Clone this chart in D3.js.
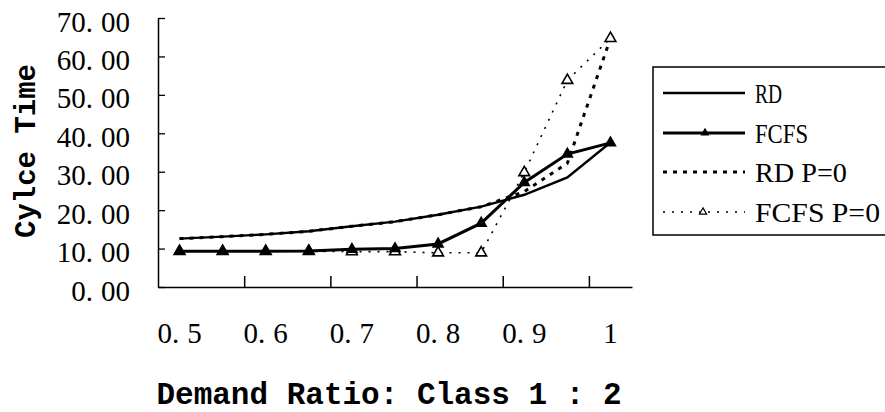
<!DOCTYPE html>
<html>
<head>
<meta charset="utf-8">
<script src="https://cdn.jsdelivr.net/npm/d3@7/dist/d3.min.js"></script>
<style>
  html, body { margin: 0; padding: 0; background: #fff; }
  svg { display: block; }
</style>
</head>
<body>
<svg id="chart" width="885" height="412"></svg>
<script>
// Demand ratio (class 1 : class 2) categories along the x axis
const categories = ["0.5", "0.55", "0.6", "0.65", "0.7", "0.75", "0.8", "0.85", "0.9", "0.95", "1"];
const xTickLabels = ["0.5", "0.6", "0.7", "0.8", "0.9", "1"];
const yTicks = [0, 10, 20, 30, 40, 50, 60, 70];

// Cycle time for each policy
const rd        = [12.6, 13.1, 13.7, 14.5, 15.8, 17.0, 18.8, 20.9, 24.0, 28.5, 37.6];
const fcfs      = [9.3, 9.3, 9.3, 9.4, 9.8, 10.0, 11.2, 16.6, 27.2, 34.6, 37.5];
const rdP0      = [12.6, 13.1, 13.7, 14.5, 15.8, 17.0, 18.8, 20.9, 24.8, 32.2, 64.7];
const fcfsP0    = [9.3, 9.3, 9.3, 9.3, 9.2, 9.2, 8.9, 8.9, 29.8, 53.8, 64.7];

const seriesNames = ["RD", "FCFS", "RD  P=0", "FCFS  P=0"];

const svg = d3.select("#chart");
const plotLeft = 158, plotRight = 632, plotTop = 18, plotBottom = 287;

const x = d3.scaleBand().domain(categories).range([plotLeft, plotRight]).padding(0);
const xEdge = d3.scaleLinear().domain([0, categories.length]).range([plotLeft, plotRight]);
const y = d3.scaleLinear().domain([0, 70]).range([plotBottom, plotTop]);
const cx = c => x(c) + x.bandwidth() / 2;

const serif = "'Liberation Serif', 'Times New Roman', serif";
const mono = "'Liberation Mono', 'Courier New', monospace";

// Labels in the "70. 00" style: the decimal point keeps a wide cell
function splitDecimal(sel, fmt) {
  sel.each(function(d) {
    const s = fmt(d);
    const t = d3.select(this).text(null);
    const i = s.indexOf(".");
    if (i < 0) { t.text(s); return; }
    t.append("tspan").text(s.slice(0, i + 1));
    t.append("tspan").attr("dx", 8).text(s.slice(i + 1));
  });
}

// Y axis: ticks point inward, labels on the left
const yAxis = svg.append("g")
  .attr("transform", `translate(${plotLeft},0)`)
  .call(d3.axisLeft(y).tickValues(yTicks).tickSizeInner(-7).tickSizeOuter(0).tickPadding(28));
yAxis.select(".domain").attr("stroke", "#000").attr("stroke-width", 1.5);
yAxis.selectAll(".tick line").attr("stroke", "#000").attr("stroke-width", 1.3);
yAxis.selectAll(".tick text")
  .attr("font-family", serif).attr("font-size", 29).attr("fill", "#000").attr("dy", "0.45em")
  .call(splitDecimal, d3.format(".2f"));

// X axis line with inward ticks every two categories
const xTickAxis = svg.append("g")
  .attr("transform", `translate(0,${plotBottom})`)
  .call(d3.axisBottom(xEdge).tickValues([2, 4, 6, 8, 10]).tickSizeInner(-11).tickSizeOuter(0).tickFormat(""));
xTickAxis.select(".domain").attr("stroke", "#000").attr("stroke-width", 1.5);
xTickAxis.selectAll(".tick line").attr("stroke", "#000").attr("stroke-width", 1.5);

// X labels centred on their categories
const xLabelAxis = svg.append("g")
  .attr("transform", `translate(0,${plotBottom})`)
  .call(d3.axisBottom(x).tickValues(xTickLabels).tickSize(0).tickPadding(35));
xLabelAxis.select(".domain").remove();
xLabelAxis.selectAll(".tick text")
  .attr("font-family", serif).attr("font-size", 29).attr("fill", "#000")
  .call(splitDecimal, d => d);

// Axis titles
svg.append("text")
  .attr("transform", "translate(35,151) rotate(-90)")
  .attr("text-anchor", "middle")
  .attr("font-family", mono).attr("font-weight", "bold").attr("font-size", 29)
  .text("Cylce Time");
svg.append("text")
  .attr("x", 389).attr("y", 404)
  .attr("text-anchor", "middle")
  .attr("font-family", mono).attr("font-weight", "bold").attr("font-size", 31)
  .text("Demand Ratio: Class 1 : 2");

const line = d3.line().x((d, i) => cx(categories[i])).y(d => y(d));
const tri = d3.symbol().type(d3.symbolTriangle);

// FCFS P=0: dotted line, hollow triangles
svg.append("path").datum(fcfsP0).attr("d", line)
  .attr("fill", "none").attr("stroke", "#000").attr("stroke-width", 1.6).attr("stroke-dasharray", "2,7");
// RD P=0: dashed line
svg.append("path").datum(rdP0).attr("d", line)
  .attr("fill", "none").attr("stroke", "#000").attr("stroke-width", 3).attr("stroke-dasharray", "4,6");
// RD: solid line
svg.append("path").datum(rd).attr("d", line)
  .attr("fill", "none").attr("stroke", "#000").attr("stroke-width", 2.4);
svg.selectAll(".m-fcfsP0").data(fcfsP0).enter().append("path")
  .attr("transform", (d, i) => `translate(${cx(categories[i])},${y(d)})`)
  .attr("d", tri.size(50)())
  .attr("fill", "#fff").attr("stroke", "#000").attr("stroke-width", 1.6);
// FCFS: solid line, filled triangles
svg.append("path").datum(fcfs).attr("d", line)
  .attr("fill", "none").attr("stroke", "#000").attr("stroke-width", 3);
svg.selectAll(".m-fcfs").data(fcfs).enter().append("path")
  .attr("transform", (d, i) => `translate(${cx(categories[i])},${y(d)})`)
  .attr("d", tri.size(70)())
  .attr("fill", "#000");

// Legend
const lg = svg.append("g");
lg.append("rect").attr("x", 653).attr("y", 67).attr("width", 240).attr("height", 168)
  .attr("fill", "#fff").attr("stroke", "#000").attr("stroke-width", 1.5);
const rowsY = [93, 133, 172, 212];
const textLen = [27, 53, 92, 125];
const styles = [
  { w: 2.4, dash: null },
  { w: 3, dash: null },
  { w: 3, dash: "4,6" },
  { w: 1.6, dash: "2,7" }
];
seriesNames.forEach((name, i) => {
  const ly = rowsY[i];
  lg.append("line").attr("x1", 663).attr("x2", 745).attr("y1", ly).attr("y2", ly)
    .attr("stroke", "#000").attr("stroke-width", styles[i].w)
    .attr("stroke-dasharray", styles[i].dash);
  if (i === 1) {
    lg.append("path").attr("transform", `translate(705,${ly})`).attr("d", tri.size(35)()).attr("fill", "#000");
  }
  if (i === 3) {
    lg.append("path").attr("transform", `translate(703,${ly})`).attr("d", tri.size(22)())
      .attr("fill", "#fff").attr("stroke", "#000").attr("stroke-width", 1.2);
  }
  lg.append("text").attr("x", 755).attr("y", ly + 10)
    .attr("font-family", serif).attr("font-size", 27).attr("fill", "#000")
    .attr("textLength", textLen[i]).attr("lengthAdjust", "spacingAndGlyphs")
    .text(name);
});
</script>
</body>
</html>
